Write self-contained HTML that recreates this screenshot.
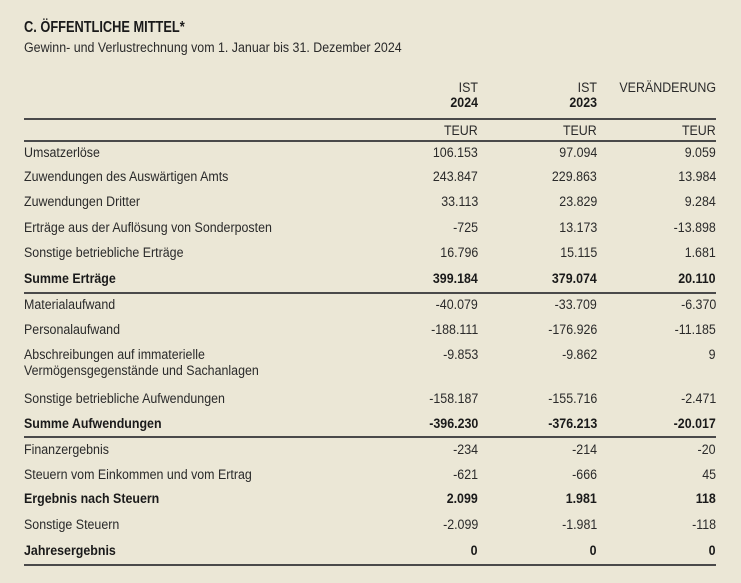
<!DOCTYPE html>
<html><head><meta charset="utf-8"><style>
html,body{margin:0;padding:0;}
body{width:741px;height:583px;background:#ebe7d6;position:relative;overflow:hidden;font-family:"Liberation Sans Narrow","Liberation Sans",sans-serif;color:#2a2a2a;font-size:13.5px;}
.t{position:absolute;white-space:nowrap;line-height:16px;transform:scaleX(0.92);transform-origin:left center;}
.r{text-align:right;transform-origin:right center;}
.b{font-weight:bold;color:#1a1a1a;}
.l{position:absolute;left:24px;width:692px;height:1.5px;background:#4a4a4a;}
</style></head><body>
<div class="t b" style="left:24px;top:20px;font-size:16px;transform:scaleX(0.8)">C. ÖFFENTLICHE MITTEL*</div>
<div class="t" style="left:24px;top:40px;">Gewinn- und Verlustrechnung vom 1. Januar bis 31. Dezember 2024</div>

<div class="t r" style="right:263px;top:80px;">IST</div>
<div class="t r b" style="right:263px;top:95px;">2024</div>
<div class="t r" style="right:144px;top:80px;">IST</div>
<div class="t r b" style="right:144px;top:95px;">2023</div>
<div class="t r" style="right:25px;top:80px;">VERÄNDERUNG</div>
<div class="l" style="top:118px"></div>
<div class="t r" style="right:263px;top:123px;">TEUR</div>
<div class="t r" style="right:144px;top:123px;">TEUR</div>
<div class="t r" style="right:25px;top:123px;">TEUR</div>
<div class="l" style="top:140px"></div>

<div class="l" style="top:292px"></div>
<div class="l" style="top:436px"></div>
<div class="l" style="top:564px"></div>

<div class="t" style="left:24px;top:145px">Umsatzerlöse</div><div class="t r" style="right:263px;top:145px">106.153</div><div class="t r" style="right:144px;top:145px">97.094</div><div class="t r" style="right:25px;top:145px">9.059</div>
<div class="t" style="left:24px;top:169px">Zuwendungen des Auswärtigen Amts</div><div class="t r" style="right:263px;top:169px">243.847</div><div class="t r" style="right:144px;top:169px">229.863</div><div class="t r" style="right:25px;top:169px">13.984</div>
<div class="t" style="left:24px;top:194px">Zuwendungen Dritter</div><div class="t r" style="right:263px;top:194px">33.113</div><div class="t r" style="right:144px;top:194px">23.829</div><div class="t r" style="right:25px;top:194px">9.284</div>
<div class="t" style="left:24px;top:220px">Erträge aus der Auflösung von Sonderposten</div><div class="t r" style="right:263px;top:220px">-725</div><div class="t r" style="right:144px;top:220px">13.173</div><div class="t r" style="right:25px;top:220px">-13.898</div>
<div class="t" style="left:24px;top:245px">Sonstige betriebliche Erträge</div><div class="t r" style="right:263px;top:245px">16.796</div><div class="t r" style="right:144px;top:245px">15.115</div><div class="t r" style="right:25px;top:245px">1.681</div>
<div class="t b" style="left:24px;top:271px">Summe Erträge</div><div class="t r b" style="right:263px;top:271px">399.184</div><div class="t r b" style="right:144px;top:271px">379.074</div><div class="t r b" style="right:25px;top:271px">20.110</div>
<div class="t" style="left:24px;top:297px">Materialaufwand</div><div class="t r" style="right:263px;top:297px">-40.079</div><div class="t r" style="right:144px;top:297px">-33.709</div><div class="t r" style="right:25px;top:297px">-6.370</div>
<div class="t" style="left:24px;top:322px">Personalaufwand</div><div class="t r" style="right:263px;top:322px">-188.111</div><div class="t r" style="right:144px;top:322px">-176.926</div><div class="t r" style="right:25px;top:322px">-11.185</div>
<div class="t" style="left:24px;top:347px">Abschreibungen auf immaterielle</div><div class="t" style="left:24px;top:363px">Vermögensgegenstände und Sachanlagen</div><div class="t r" style="right:263px;top:347px">-9.853</div><div class="t r" style="right:144px;top:347px">-9.862</div><div class="t r" style="right:25px;top:347px">9</div>
<div class="t" style="left:24px;top:391px">Sonstige betriebliche Aufwendungen</div><div class="t r" style="right:263px;top:391px">-158.187</div><div class="t r" style="right:144px;top:391px">-155.716</div><div class="t r" style="right:25px;top:391px">-2.471</div>
<div class="t b" style="left:24px;top:416px">Summe Aufwendungen</div><div class="t r b" style="right:263px;top:416px">-396.230</div><div class="t r b" style="right:144px;top:416px">-376.213</div><div class="t r b" style="right:25px;top:416px">-20.017</div>
<div class="t" style="left:24px;top:442px">Finanzergebnis</div><div class="t r" style="right:263px;top:442px">-234</div><div class="t r" style="right:144px;top:442px">-214</div><div class="t r" style="right:25px;top:442px">-20</div>
<div class="t" style="left:24px;top:467px">Steuern vom Einkommen und vom Ertrag</div><div class="t r" style="right:263px;top:467px">-621</div><div class="t r" style="right:144px;top:467px">-666</div><div class="t r" style="right:25px;top:467px">45</div>
<div class="t b" style="left:24px;top:491px">Ergebnis nach Steuern</div><div class="t r b" style="right:263px;top:491px">2.099</div><div class="t r b" style="right:144px;top:491px">1.981</div><div class="t r b" style="right:25px;top:491px">118</div>
<div class="t" style="left:24px;top:517px">Sonstige Steuern</div><div class="t r" style="right:263px;top:517px">-2.099</div><div class="t r" style="right:144px;top:517px">-1.981</div><div class="t r" style="right:25px;top:517px">-118</div>
<div class="t b" style="left:24px;top:543px">Jahresergebnis</div><div class="t r b" style="right:263px;top:543px">0</div><div class="t r b" style="right:144px;top:543px">0</div><div class="t r b" style="right:25px;top:543px">0</div>
</body></html>
